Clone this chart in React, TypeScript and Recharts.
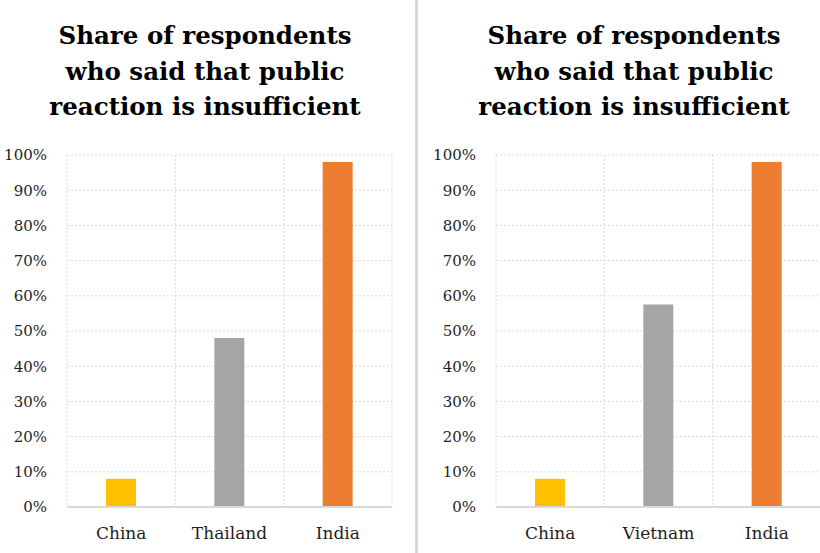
import { BarChart, Bar, XAxis, YAxis, CartesianGrid, Cell } from 'recharts';

const leftCategories = ['China', 'Thailand', 'India'];
const leftValues = [0.08, 0.48, 0.98];
const rightCategories = ['China', 'Vietnam', 'India'];
const rightValues = [0.08, 0.575, 0.98];
const barColors = ['#ffc000', '#a5a5a5', '#ed7d31'];
const yTicks = [0, 0.1, 0.2, 0.3, 0.4, 0.5, 0.6, 0.7, 0.8, 0.9, 1];
const titleLines = ['Share of respondents', 'who said that public', 'reaction is insufficient'];

const FONT = '"DejaVu Serif", serif';

interface PanelProps {
  left: number;
  categories: string[];
  values: number[];
}

function Panel({ left, categories, values }: PanelProps) {
  const data = categories.map((name, i) => ({ name, value: values[i] }));

  return (
    <div style={{ position: 'absolute', left, top: 0, width: 410, height: 553 }}>
      <div
        style={{
          position: 'absolute',
          top: 18,
          left: 0,
          width: 410,
          textAlign: 'center',
          fontFamily: FONT,
          fontWeight: 700,
          fontSize: 24.5,
          lineHeight: '35.5px',
          color: '#000'
        }}
      >
        {titleLines.map((line) => (
          <div key={line}>{line}</div>
        ))}
      </div>
      <div style={{ position: 'absolute', top: 140, left: 0 }}>
        <BarChart width={410} height={413} data={data} margin={{ top: 15, right: 18, left: 0, bottom: 16 }}>
          <CartesianGrid
            stroke="#d9d9d9"
            strokeDasharray="2 2"
            verticalCoordinatesGenerator={({ offset }: any) =>
              [0, 1, 2, 3].map((i) => offset.left + (i * offset.width) / 3)
            }
          />
          <XAxis
            dataKey="name"
            tickLine={false}
            axisLine={{ stroke: '#d9d9d9', strokeWidth: 2 }}
            height={30}
            tick={{ fill: '#1f1f1f', fontSize: 17, fontFamily: FONT }}
            tickMargin={14}
          />
          <YAxis
            domain={[0, 1]}
            ticks={yTicks}
            width={67}
            axisLine={false}
            tickLine={false}
            tickMargin={14}
            tickFormatter={(v: number) => `${Math.round(v * 100)}%`}
            tick={{ fill: '#1f1f1f', fontSize: 15, fontFamily: FONT }}
          />
          <Bar dataKey="value" barSize={30} isAnimationActive={false}>
            {data.map((entry, i) => (
              <Cell key={entry.name} fill={barColors[i]} />
            ))}
          </Bar>
        </BarChart>
      </div>
    </div>
  );
}

export default function App() {
  return (
    <div style={{ position: 'absolute', left: 0, top: 0, width: 820, height: 553, background: '#fff', overflow: 'hidden' }}>
      <Panel left={0} categories={leftCategories} values={leftValues} />
      <div style={{ position: 'absolute', left: 415, top: 0, width: 3, height: 553, background: '#d9d9d9' }} />
      <Panel left={429} categories={rightCategories} values={rightValues} />
    </div>
  );
}
